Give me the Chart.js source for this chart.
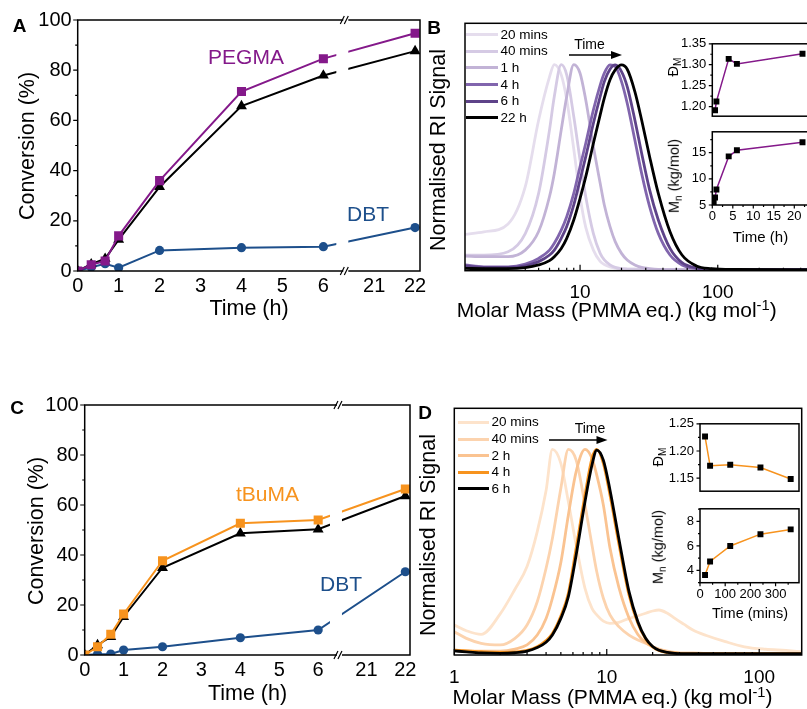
<!DOCTYPE html>
<html>
<head>
<meta charset="utf-8">
<script src="https://cdn.jsdelivr.net/npm/chart.js@4.4.1/dist/chart.umd.min.js"></script>
<style>
  html, body { margin: 0; padding: 0; background: #fff; overflow: hidden; }
  body { width: 807px; height: 709px; position: relative; font-family: "Liberation Sans", Arial, sans-serif; color: #000; }
  .box { position: absolute; }
  .box canvas { display: block; }
  .txt { position: absolute; white-space: nowrap; line-height: 1; transform: translate(-50%, -50%); }
  .rot { transform: translate(-50%, -50%) rotate(-90deg); }
  .lft { transform: translate(0, -50%); }
  .swatch { position: absolute; height: 3px; }
  .sb { font-size: 0.7em; position: relative; top: 0.3em; }
  .sp { font-size: 0.7em; position: relative; top: -0.5em; }
</style>
</head>
<body>
<div class="box" style="left:0;top:0;width:430px;height:300px"><canvas id="chartA"></canvas></div>
<div class="box" style="left:0;top:385px;width:420px;height:315px"><canvas id="chartC"></canvas></div>
<div class="box" style="left:440px;top:0;width:380px;height:300px"><canvas id="chartB"></canvas></div>
<div class="box" style="left:670px;top:30px;width:150px;height:100px"><canvas id="chartBd"></canvas></div>
<div class="box" style="left:670px;top:118px;width:150px;height:110px"><canvas id="chartBm"></canvas></div>
<div class="box" style="left:430px;top:395px;width:377px;height:305px"><canvas id="chartD"></canvas></div>
<div class="box" style="left:655px;top:410px;width:152px;height:95px"><canvas id="chartDd"></canvas></div>
<div class="box" style="left:655px;top:495px;width:152px;height:110px"><canvas id="chartDm"></canvas></div>

<script>
// ---- panel A: PEGMA / DBT conversion ----
const timeA = [0, 0.33, 0.67, 1, 2, 4, 6, 22];
const pegmaConv = [0, 2.5, 4, 14, 36, 71.5, 84.6, 94.7];
const totalConvA = [0, 2.7, 4.9, 12.5, 33.5, 65.7, 77.9, 87.6];
const dbtConvA = [0, 1.5, 2.9, 1.3, 8.2, 9.3, 9.7, 17.3];

// ---- panel C: tBuMA / DBT conversion ----
const timeC = [0, 0.33, 0.67, 1, 2, 4, 6, 22];
const tbumaConv = [0, 3.3, 8.3, 16.4, 37.7, 52.7, 54, 66.4];
const totalConvC = [0, 4, 7.3, 15.3, 34.9, 48.7, 50.3, 63.6];
const dbtConvC = [0, 0.3, 0.4, 2, 3.3, 6.9, 10, 33.3];

const timeTicks = [0, 1, 2, 3, 4, 5, 6, 21, 22];
const convTicks = [0, 20, 40, 60, 80, 100];
const convMinor = [10, 30, 50, 70, 90];

// ---- panel B: GPC traces (kg/mol vs normalised RI) ----
const massB = [1.46, 2, 3, 4, 5, 6, 6.5, 7.3, 8, 9, 10, 11, 12.5, 14, 15, 16.5, 18, 20, 22, 25, 28, 32, 37, 45, 55, 70, 90, 130, 500];
const riB20min = [0.176, 0.188, 0.227, 0.408, 0.73, 0.94, 1.0, 0.95, 0.83, 0.59, 0.36, 0.21, 0.10, 0.045, 0.03, 0.018, 0.012, 0.01, 0.008, 0.007, 0.006, 0.006, 0.006, 0.005, 0.005, 0.005, 0.005, 0.005, 0.005];
const riB40min = [0.076, 0.076, 0.092, 0.18, 0.375, 0.683, 0.845, 1.0, 0.95, 0.748, 0.537, 0.359, 0.18, 0.084, 0.052, 0.028, 0.016, 0.01, 0.008, 0.007, 0.006, 0.006, 0.006, 0.005, 0.005, 0.005, 0.005, 0.005, 0.005];
const riB1h = [0.071, 0.068, 0.068, 0.10, 0.19, 0.36, 0.472, 0.683, 0.845, 1.0, 0.958, 0.828, 0.602, 0.424, 0.319, 0.214, 0.141, 0.084, 0.052, 0.028, 0.016, 0.01, 0.006, 0.005, 0.005, 0.005, 0.005, 0.005, 0.005];
const riB4h = [0.028, 0.019, 0.019, 0.032, 0.06, 0.10, 0.133, 0.197, 0.262, 0.375, 0.505, 0.618, 0.78, 0.90, 0.958, 0.998, 0.99, 0.917, 0.812, 0.634, 0.472, 0.311, 0.181, 0.076, 0.028, 0.011, 0.006, 0.005, 0.005];
const riB6h = [0.023, 0.016, 0.016, 0.024, 0.044, 0.076, 0.1, 0.157, 0.214, 0.319, 0.44, 0.553, 0.715, 0.845, 0.917, 0.977, 0.998, 0.966, 0.893, 0.731, 0.57, 0.392, 0.246, 0.108, 0.039, 0.013, 0.006, 0.005, 0.005];
const riB22h = [0.011, 0.01, 0.01, 0.015, 0.028, 0.049, 0.068, 0.108, 0.157, 0.246, 0.351, 0.456, 0.618, 0.756, 0.837, 0.926, 0.974, 0.998, 0.977, 0.869, 0.731, 0.553, 0.375, 0.189, 0.076, 0.023, 0.01, 0.006, 0.005];
const legendB = ['20 mins', '40 mins', '1 h', '4 h', '6 h', '22 h'];

// inset B (time in h)
const gpcTimeB = [0.33, 0.67, 1, 4, 6, 22];
const dispersityB = [null, 1.191, 1.212, 1.314, 1.302, 1.326];
const mnB = [5.57, 6.42, 7.96, 14.3, 15.46, 17.0];

// ---- panel D: GPC traces ----
const massD = [1, 1.2, 1.5, 2, 2.5, 3, 3.5, 4, 4.4, 5, 5.6, 6.3, 7.2, 8, 8.6, 9.5, 10.5, 12, 14, 16, 18, 20, 22, 25, 28, 32, 37, 45, 60, 80, 110, 150, 190];
const riD20min = [0.146, 0.118, 0.10, 0.2, 0.32, 0.43, 0.6, 0.8, 1.0, 0.932, 0.746, 0.535, 0.324, 0.227, 0.195, 0.165, 0.154, 0.159, 0.178, 0.191, 0.203, 0.214, 0.219, 0.203, 0.178, 0.15, 0.12, 0.095, 0.065, 0.04, 0.028, 0.022, 0.016];
const riD40min = [0.113, 0.081, 0.057, 0.049, 0.081, 0.146, 0.259, 0.422, 0.567, 0.811, 1.0, 0.948, 0.73, 0.535, 0.405, 0.276, 0.195, 0.138, 0.097, 0.073, 0.057, 0.041, 0.029, 0.019, 0.013, 0.01, 0.01, 0.008, 0.008, 0.008, 0.008, 0.008, 0.008];
const riD2h = [0.024, 0.02, 0.019, 0.019, 0.029, 0.049, 0.097, 0.178, 0.276, 0.45, 0.681, 0.892, 1.0, 0.957, 0.875, 0.73, 0.52, 0.33, 0.18, 0.1, 0.06, 0.04, 0.027, 0.016, 0.01, 0.007, 0.007, 0.007, 0.007, 0.007, 0.007, 0.007, 0.007];
const riD4h = [0.024, 0.02, 0.016, 0.013, 0.015, 0.022, 0.04, 0.07, 0.105, 0.19, 0.3, 0.52, 0.778, 0.957, 1.0, 0.932, 0.778, 0.543, 0.292, 0.154, 0.078, 0.039, 0.022, 0.012, 0.009, 0.007, 0.007, 0.007, 0.007, 0.007, 0.007, 0.007, 0.007];
const riD6h = [0.02, 0.015, 0.01, 0.008, 0.011, 0.019, 0.036, 0.062, 0.097, 0.178, 0.284, 0.486, 0.746, 0.924, 0.997, 0.948, 0.803, 0.567, 0.308, 0.162, 0.081, 0.041, 0.023, 0.013, 0.008, 0.006, 0.006, 0.006, 0.006, 0.006, 0.006, 0.006, 0.006];
const legendD = ['20 mins', '40 mins', '2 h', '4 h', '6 h'];

// inset D (time in mins)
const gpcTimeD = [20, 40, 120, 240, 360];
const dispersityD = [1.2266, 1.1727, 1.1747, 1.1696, 1.1485];
const mnD = [3.63, 4.73, 6.0, 6.96, 7.35];

// ---- styling ----
const FONT = '"Liberation Sans", Arial, sans-serif';
const PURPLE = '#84198a';
const BLUE = '#1d4f8b';
const ORANGE = '#f7931e';
const coloursB = ['#e5dded', '#d5cae4', '#c2b3d6', '#8165ad', '#5e4389', '#000000'];
const coloursD = ['#fde3cb', '#fcd3ae', '#fac391', ORANGE, '#000000'];

Chart.defaults.font.family = FONT;
Chart.defaults.color = '#000';

// broken time axis: 21-22 h are drawn right after the break at ~6.5 h
const breakAt = 6.56;
const axisOffset = 13.76;
function toAxis(t) { return t > breakAt ? t - axisOffset : t; }
function pts(xs, ys, fx) { return xs.map((x, i) => ({ x: fx ? fx(x) : x, y: ys[i] })); }
function range(a, b, step) { const r = []; for (let v = a; v <= b + 1e-9; v += step) r.push(+v.toFixed(4)); return r; }

// box around the plot area, hand-drawn tick marks, axis break
const framePlugin = {
    id: 'frame',
    afterDatasetsDraw(chart, args, opts) {
        const { ctx, chartArea: a, scales } = chart;
        ctx.save();
        let bx = null;
        if (opts.breakAt != null) {
            bx = scales.x.getPixelForValue(opts.breakAt);
            ctx.fillStyle = '#fff';
            ctx.fillRect(bx - 10, a.top + 1, 12, a.bottom - a.top - 2);
        }
        ctx.strokeStyle = '#000';
        ctx.lineWidth = 1.5;
        ctx.strokeRect(a.left, a.top, a.right - a.left, a.bottom - a.top);
        ctx.lineWidth = 1.2;
        (opts.ticks || []).forEach(t => {
            const s = scales[t.axis];
            const dir = t.inward ? 1 : -1;
            ctx.beginPath();
            t.values.forEach(v => {
                if (v < s.min || v > s.max) return;
                const p = s.getPixelForValue(v);
                if (t.axis === 'x') { ctx.moveTo(p, a.bottom); ctx.lineTo(p, a.bottom - dir * t.len); }
                else { ctx.moveTo(a.left, p); ctx.lineTo(a.left + dir * t.len, p); }
            });
            ctx.stroke();
        });
        if (bx !== null) {
            [a.top, a.bottom].forEach(y => {
                ctx.fillStyle = '#fff';
                ctx.fillRect(bx - 3, y - 2, 5, 4);
                ctx.beginPath();
                ctx.moveTo(bx - 6, y + 4); ctx.lineTo(bx - 2, y - 4);
                ctx.moveTo(bx - 2, y + 4); ctx.lineTo(bx + 2, y - 4);
                ctx.stroke();
            });
        }
        ctx.restore();
    }
};
Chart.register(framePlugin);

// pad = distance of the plot area from each canvas edge; left/bottom become axis sizes
function baseOptions(pad) {
    return {
        responsive: true,
        maintainAspectRatio: false,
        animation: false,
        layout: { padding: { top: pad.top, right: pad.right, left: 0, bottom: 0 } },
        plugins: { legend: { display: false }, tooltip: { enabled: false } }
    };
}

function conversionChart(id, pad, series) {
    const options = baseOptions(pad);
    options.plugins.frame = {
        breakAt: breakAt,
        ticks: [
            { axis: 'y', values: convTicks, len: 4.5 },
            { axis: 'y', values: convMinor, len: 2.5 }
        ]
    };
    options.scales = {
        x: {
            type: 'linear', min: 0, max: 8.36,
            grid: { display: false, drawTicks: false }, border: { display: false },
            afterBuildTicks: s => { s.ticks = timeTicks.map(v => ({ value: toAxis(v) })); },
            afterFit: s => { s.height = pad.bottom; },
            ticks: {
                font: { size: 20 }, padding: 3, autoSkip: false, maxRotation: 0,
                callback: v => v > breakAt ? String(Math.round(v + axisOffset)) : String(v)
            }
        },
        y: {
            min: 0, max: 100,
            grid: { display: false, drawTicks: false }, border: { display: false },
            afterBuildTicks: s => { s.ticks = convTicks.map(v => ({ value: v })); },
            afterFit: s => { s.width = pad.left; },
            ticks: { font: { size: 20 }, padding: 6 }
        }
    };
    return new Chart(document.getElementById(id), {
        type: 'line',
        data: {
            datasets: series.map(s => ({
                data: pts(s.t, s.y, toAxis),
                borderColor: s.color,
                backgroundColor: s.color,
                pointBackgroundColor: s.color,
                pointBorderColor: s.color,
                borderWidth: 2,
                pointStyle: s.marker,
                pointRadius: s.r,
                pointBorderWidth: 0,
                tension: 0
            }))
        },
        options: options
    });
}

function gpcChart(id, pad, mass, traces, colours, xmin, xmax, majors, labelPad) {
    const minors = [2, 3, 4, 5, 6, 7, 8, 9, 20, 30, 40, 50, 60, 70, 80, 90, 200, 300, 400, 500];
    const options = baseOptions(pad);
    options.plugins.frame = {
        ticks: [
            { axis: 'x', values: majors, len: 6, inward: true },
            { axis: 'x', values: minors, len: 3, inward: true }
        ]
    };
    options.scales = {
        x: {
            type: 'logarithmic', min: xmin, max: xmax,
            grid: { display: false, drawTicks: false }, border: { display: false },
            afterBuildTicks: s => { s.ticks = majors.map(v => ({ value: v })); },
            afterFit: s => { s.height = pad.bottom; },
            ticks: { font: { size: 19 }, padding: labelPad, autoSkip: false, maxRotation: 0, callback: v => String(v) }
        },
        y: {
            min: 0, max: 1.2,
            grid: { display: false, drawTicks: false }, border: { display: false },
            afterFit: s => { s.width = pad.left; },
            ticks: { display: false }
        }
    };
    // latest trace first so that it is drawn on top
    const datasets = traces.map((ri, i) => ({
        data: pts(mass, ri),
        borderColor: colours[i],
        borderWidth: 2.8,
        pointRadius: 0,
        cubicInterpolationMode: 'monotone'
    })).reverse();
    return new Chart(document.getElementById(id), { type: 'line', data: { datasets }, options });
}

function insetChart(id, pad, xs, ys, colour, xr, yr, yMajor, yMinor, yFmt, xMajor, xMinor) {
    const options = baseOptions(pad);
    const ticks = [
        { axis: 'y', values: yMajor, len: 3.5 },
        { axis: 'y', values: yMinor, len: 2 }
    ];
    if (xMajor) {
        ticks.push({ axis: 'x', values: xMajor, len: 3.5 });
        ticks.push({ axis: 'x', values: xMinor, len: 2 });
    }
    options.plugins.frame = { ticks };
    options.scales = {
        x: {
            type: 'linear', min: xr[0], max: xr[1],
            grid: { display: false, drawTicks: false }, border: { display: false },
            afterBuildTicks: s => { s.ticks = (xMajor || []).map(v => ({ value: v })); },
            afterFit: s => { s.height = pad.bottom; },
            ticks: { display: !!xMajor, font: { size: 13 }, padding: 4, autoSkip: false, maxRotation: 0 }
        },
        y: {
            min: yr[0], max: yr[1],
            grid: { display: false, drawTicks: false }, border: { display: false },
            afterBuildTicks: s => { s.ticks = yMajor.map(v => ({ value: v })); },
            afterFit: s => { s.width = pad.left; },
            ticks: { font: { size: 13 }, padding: 6, callback: yFmt }
        }
    };
    return new Chart(document.getElementById(id), {
        type: 'line',
        data: {
            datasets: [{
                data: pts(xs, ys),
                borderColor: colour,
                borderWidth: 1.5,
                pointStyle: 'rect',
                pointRadius: 4.2,
                pointBackgroundColor: '#000',
                pointBorderColor: '#000',
                pointBorderWidth: 0,
                tension: 0
            }]
        },
        options
    });
}

// ---- charts ----
conversionChart('chartA', { left: 77.7, top: 20, right: 10, bottom: 29 }, [
    { t: timeA, y: pegmaConv, color: PURPLE, marker: 'rect', r: 6.4 },
    { t: timeA, y: totalConvA, color: '#000', marker: 'triangle', r: 6.3 },
    { t: timeA, y: dbtConvA, color: BLUE, marker: 'circle', r: 4.6 }
]);
conversionChart('chartC', { left: 84.7, top: 20, right: 10, bottom: 45 }, [
    { t: timeC, y: tbumaConv, color: ORANGE, marker: 'rect', r: 6.4 },
    { t: timeC, y: totalConvC, color: '#000', marker: 'triangle', r: 6.3 },
    { t: timeC, y: dbtConvC, color: BLUE, marker: 'circle', r: 4.6 }
]);

gpcChart('chartB', { left: 25, top: 23.3, right: 6, bottom: 29.3 }, massB,
    [riB20min, riB40min, riB1h, riB4h, riB6h, riB22h], coloursB, 1.46, 500, [10, 100], 11);
gpcChart('chartD', { left: 24.3, top: 13.3, right: 5.3, bottom: 45 }, massD,
    [riD20min, riD40min, riD2h, riD4h, riD6h], coloursD, 1, 190, [1, 10, 100], 11.6);

insetChart('chartBd', { left: 42.3, top: 11.7, right: 9.3, bottom: 6.7 }, gpcTimeB, dispersityB, PURPLE,
    [0, 24], [1.177, 1.35], [1.20, 1.25, 1.30, 1.35], [1.225, 1.275, 1.325], v => v.toFixed(2));
insetChart('chartBm', { left: 42.3, top: 5.3, right: 9.3, bottom: 23 }, gpcTimeB, mnB, PURPLE,
    [0, 24], [5, 19], [5, 10, 15], [7.5, 12.5, 17.5], v => String(v), [0, 5, 10, 15, 20], range(2.5, 22.5, 5));
insetChart('chartDd', { left: 45, top: 10, right: 8, bottom: 4 }, gpcTimeD, dispersityD, ORANGE,
    [0, 393], [1.126, 1.25], [1.15, 1.20, 1.25], [1.175, 1.225], v => v.toFixed(2));
insetChart('chartDm', { left: 45, top: 6, right: 8, bottom: 22.3 }, gpcTimeD, mnD, ORANGE,
    [0, 393], [3.0, 9.03], [4, 6, 8], [3, 5, 7, 9], v => String(v), [0, 100, 200, 300], [50, 150, 250, 350]);

// ---- text, legends, arrows ----
function addText(html, x, y, size, opt) {
    opt = opt || {};
    const d = document.createElement('div');
    d.className = 'txt' + (opt.rot ? ' rot' : '') + (opt.left ? ' lft' : '');
    d.innerHTML = html;
    d.style.left = x + 'px';
    d.style.top = y + 'px';
    d.style.fontSize = size + 'px';
    if (opt.color) d.style.color = opt.color;
    if (opt.bold) d.style.fontWeight = 'bold';
    document.body.appendChild(d);
}

function addLegend(labels, colours, x0, x1, y0, step) {
    labels.forEach((lab, i) => {
        const y = y0 + i * step;
        const s = document.createElement('div');
        s.className = 'swatch';
        s.style.left = x0 + 'px';
        s.style.top = (y - 1.5) + 'px';
        s.style.width = (x1 - x0) + 'px';
        s.style.background = colours[i];
        document.body.appendChild(s);
        addText(lab, x1 + 3, y, 13.5, { left: true });
    });
}

function addArrow(x0, x1, y) {
    const ns = 'http://www.w3.org/2000/svg';
    const svg = document.createElementNS(ns, 'svg');
    svg.setAttribute('width', x1 - x0 + 2);
    svg.setAttribute('height', 12);
    svg.style.position = 'absolute';
    svg.style.left = x0 + 'px';
    svg.style.top = (y - 6) + 'px';
    const w = x1 - x0;
    svg.innerHTML = '<line x1="0" y1="6" x2="' + (w - 8) + '" y2="6" stroke="#000" stroke-width="1.5"/>' +
        '<polygon points="' + (w - 11) + ',2 ' + w + ',6 ' + (w - 11) + ',10" fill="#000"/>';
    document.body.appendChild(svg);
}

// panel A
addText('A', 19.7, 25, 19, { bold: true });
addText('Conversion (%)', 27.5, 145.5, 21.5, { rot: true });
addText('Time (h)', 249, 309, 21.5);
addText('PEGMA', 246, 55.8, 21, { color: PURPLE });
addText('DBT', 368, 213.3, 21, { color: BLUE });

// panel C
addText('C', 17, 406.7, 19, { bold: true });
addText('Conversion (%)', 36.7, 530.5, 21.5, { rot: true });
addText('Time (h)', 247.5, 694, 21.5);
addText('tBuMA', 267.5, 492.5, 21, { color: ORANGE });
addText('DBT', 341, 583, 21, { color: BLUE });

// panel B
addText('B', 434, 26.7, 19, { bold: true });
addText('Normalised RI Signal', 438.5, 150, 21.5, { rot: true });
addText('Molar Mass (PMMA eq.) (kg mol<span class="sp">-1</span>)', 616.7, 309, 21);
addLegend(legendB, coloursB, 465.5, 497.5, 34.7, 16.6);
addText('Time', 589.5, 44, 14);
addArrow(569, 622, 55);
addText('Đ<span class="sb">M</span>', 672.5, 66.7, 14.5, { rot: true });
addText('M<span class="sb">n</span> (kg/mol)', 674, 176, 14.5, { rot: true });
addText('Time (h)', 760.5, 236, 15);

// panel D
addText('D', 425, 411.7, 19, { bold: true });
addText('Normalised RI Signal', 429, 535, 21.5, { rot: true });
addText('Molar Mass (PMMA eq.) (kg mol<span class="sp">-1</span>)', 612.5, 696, 21);
addLegend(legendD, coloursD, 458, 488.5, 422.4, 16.6);
addText('Time', 590, 428.3, 14);
addArrow(548.5, 607, 439.5);
addText('Đ<span class="sb">M</span>', 657.5, 457, 14.5, { rot: true });
addText('M<span class="sb">n</span> (kg/mol)', 657.7, 547, 14.5, { rot: true });
addText('Time (mins)', 750, 612.5, 14.5);
</script>
</body>
</html>
